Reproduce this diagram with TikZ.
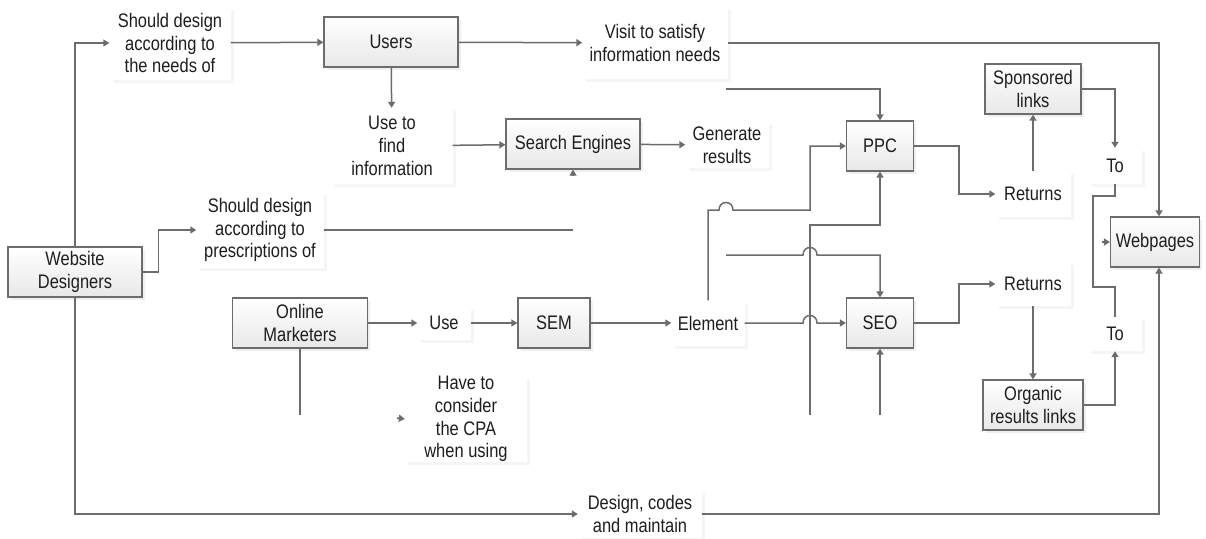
\documentclass[tikz,border=0pt]{standalone}
\usepackage{fontspec}
\setmainfont{Liberation Sans}[FakeStretch=0.84]
\usetikzlibrary{arrows.meta,shadows}
\definecolor{ln}{HTML}{6C6C6C}
\definecolor{txt}{HTML}{1E1E1E}
\begin{document}
\begin{tikzpicture}[x=1pt,y=-1pt,
  every node/.style={font=\fontsize{19.6}{22.7}\selectfont, text=txt, align=center, inner sep=0pt},
  boxn/.style={draw=ln, line width=1.2pt, top color=white, bottom color=black!9,
     drop shadow={shadow xshift=2.5pt,shadow yshift=-2.5pt,fill=black!12}},
  lbl/.style={fill=white, drop shadow={shadow xshift=3pt,shadow yshift=-3pt,fill=black!7}},
  arr/.style={draw=ln, line width=1.5pt, -{Triangle[length=6pt,width=7pt]}},
  con/.style={draw=ln, line width=1.5pt}]
\useasboundingbox (0,0) rectangle (1206,538);
\fill[white] (0,0) rectangle (1206,538);

% boxes
\node[boxn, minimum width=134, minimum height=50] (users) at (391,42) {Users};
\node[boxn, minimum width=134, minimum height=50] (search) at (573,144) {Search Engines};
\node[boxn, minimum width=67, minimum height=50] (ppc) at (880,146) {PPC};
\node[boxn, minimum width=96, minimum height=50] (spons) at (1033,89) {Sponsored\\links};
\node[boxn, minimum width=134, minimum height=50] (wd) at (75,272) {Website\\Designers};
\node[boxn, minimum width=135, minimum height=50] (om) at (300,323) {Online\\Marketers};
\node[boxn, minimum width=72, minimum height=50] (sem) at (554,323) {SEM};
\node[boxn, minimum width=67, minimum height=50] (seo) at (880,323) {SEO};
\node[boxn, minimum width=89, minimum height=50] (web) at (1155,242) {Webpages};
\node[boxn, minimum width=100, minimum height=50] (org) at (1033,405) {Organic\\results links};

% label boxes
\node[lbl, minimum width=121, minimum height=73] (t1) at (170,43) {Should design\\according to\\the needs of};
\node[lbl, minimum width=145, minimum height=72] (t2) at (655,43) {Visit to satisfy\\information needs};
\node[lbl, minimum width=121, minimum height=76] (t3) at (392,146) {Use to\\find\\information};
\node[lbl, minimum width=83, minimum height=46] (t4) at (727,145) {Generate\\results};
\node[lbl, minimum width=127, minimum height=76] (t5) at (260,230) {Should design\\according to\\prescriptions of};
\node[lbl, minimum width=53, minimum height=33] (use) at (444,323) {Use};
\node[lbl, minimum width=73, minimum height=45] (elem) at (708,323) {Element};
\node[lbl, minimum width=75, minimum height=46] (ret1) at (1033,194) {Returns};
\node[lbl, minimum width=75, minimum height=44] (ret2) at (1033,284) {Returns};
\node[lbl, minimum width=53, minimum height=36] (to1) at (1115,166) {To};
\node[lbl, minimum width=53, minimum height=34] (to2) at (1115,334) {To};
\node[lbl, minimum width=122, minimum height=78] (cpa) at (466,419) {Have to\\consider\\the CPA\\when using};
\node[lbl, minimum width=124, minimum height=48] (dcm) at (640,514) {Design, codes\\and maintain};

% free ends
\coordinate (c9) at (726,89);
\coordinate (c10) at (573,230);
\coordinate (c17) at (726,255);
\coordinate (c18) at (810,415);
\coordinate (c19) at (880,415);
\coordinate (c23) at (1102,242);
\coordinate (c28) at (300,415);
\coordinate (c28b) at (397,418);
\coordinate (cse) at (573,176);

% connectors
\draw[arr] (wd.north) |- (t1.west);
\draw[arr] (t1) -- (users);
\draw[arr] (users) -- (t2);
\draw[arr] (t2.east) -| ([xshift=4pt]web.north);
\draw[arr] (users) -- (t3);
\draw[arr] (t3) -- (search);
\draw[arr] (search) -- (t4);
\draw[arr] (cse) -- (search.south);
\draw[arr] (c9) -| (ppc.north);
\draw[con] (t5.east) -- (c10);
\draw[arr] (wd.east) -- ++(16,0) |- (t5.west);
\draw[arr] (om) -- (use);
\draw[arr] (use) -- (sem);
\draw[arr] (sem) -- (elem);
\draw[arr] (elem.east) -- (803,323) .. controls (803,313) and (817,313) .. (817,323) -- (seo.west);
\draw[arr] (elem.north) -- (708,210) -- (719,210) .. controls (719,200) and (733,200) .. (733,210) -- (810,210) |- (ppc.west);
\draw[arr] (c17) -- (803,255) .. controls (803,245) and (817,245) .. (817,255) -| (seo.north);
\draw[arr] (c18) -- (810,225) -| (ppc.south);
\draw[arr] (c19) -- (seo.south);
\draw[arr] (ppc.east) -- (959,146) |- (ret1.west);
\draw[arr] (ret1.north) -- (spons.south);
\draw[arr] (spons.east) -| (to1.north);
\draw[con] (to1.south) -- (1115,196) -- (1093,196) -- (1093,287) -- (1115,287) -- (to2.north);
\draw[arr] (c23) -- (web.west);
\draw[arr] (seo.east) -- (959,323) |- (ret2.west);
\draw[arr] (ret2.south) -- (org.north);
\draw[arr] (org.east) -| (to2.south);
\draw[arr] (wd.south) |- (dcm.west);
\draw[arr] (dcm.east) -| ([xshift=4pt]web.south);
\draw[con] (om.south) -- (c28);
\draw[arr] (c28b) -- (cpa.west);
\end{tikzpicture}
\end{document}
